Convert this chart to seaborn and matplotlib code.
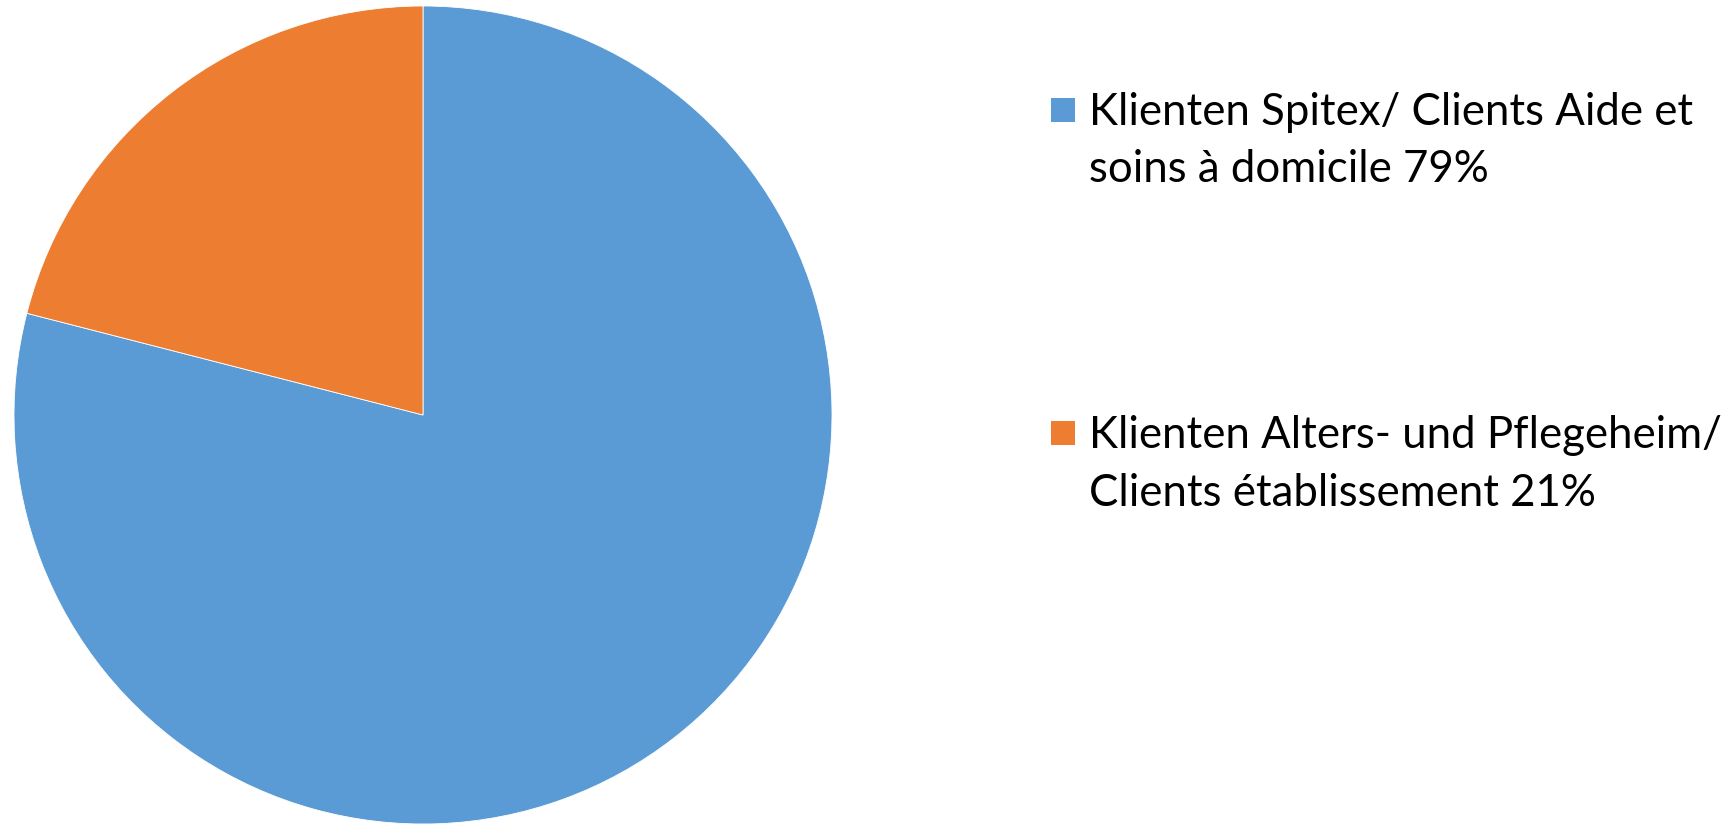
import matplotlib
matplotlib.use("Agg")
import matplotlib.pyplot as plt
import seaborn as sns
from matplotlib.patches import Rectangle

categories = ["Klienten Spitex/ Clients Aide et\nsoins à domicile 79%",
              "Klienten Alters- und Pflegeheim/\nClients établissement 21%"]
values = [79, 21]
colors = ["#5B9BD5", "#ED7D31"]

sns.set_theme(style="white")
plt.rcParams['font.family'] = ['Lato', 'DejaVu Sans']

W, H = 1734, 824
fig = plt.figure(figsize=(W / 100, H / 100), dpi=100)
fig.patch.set_facecolor("white")

ax = fig.add_axes([14 / W, 0 / H, 818 / W, 818 / H])
ax.pie(values, colors=colors, startangle=90, counterclock=False,
       wedgeprops=dict(edgecolor="white", linewidth=0.6))
ax.set_xlim(-1.0, 1.0)
ax.set_ylim(-1.0, 1.0)
ax.set_aspect("equal")
ax.axis("off")

# legend (manual, first-line aligned)
sq_x, sq_w = 1051, 24
text_x = 1089
line_gap = 57.5
first_baselines = [125, 448]
fs = 31.5
for lab, col, base in zip(categories, colors, first_baselines):
    top = base - 27
    fig.patches.append(Rectangle((sq_x / W, 1 - (top + sq_w) / H), sq_w / W, sq_w / H,
                                 transform=fig.transFigure, facecolor=col,
                                 edgecolor="none"))
    for i, line in enumerate(lab.split("\n")):
        y = base + i * line_gap
        fig.text(text_x / W, 1 - y / H, line, fontsize=fs, color="black",
                 ha="left", va="baseline")

fig.savefig("out.png", dpi=100, facecolor="white")
